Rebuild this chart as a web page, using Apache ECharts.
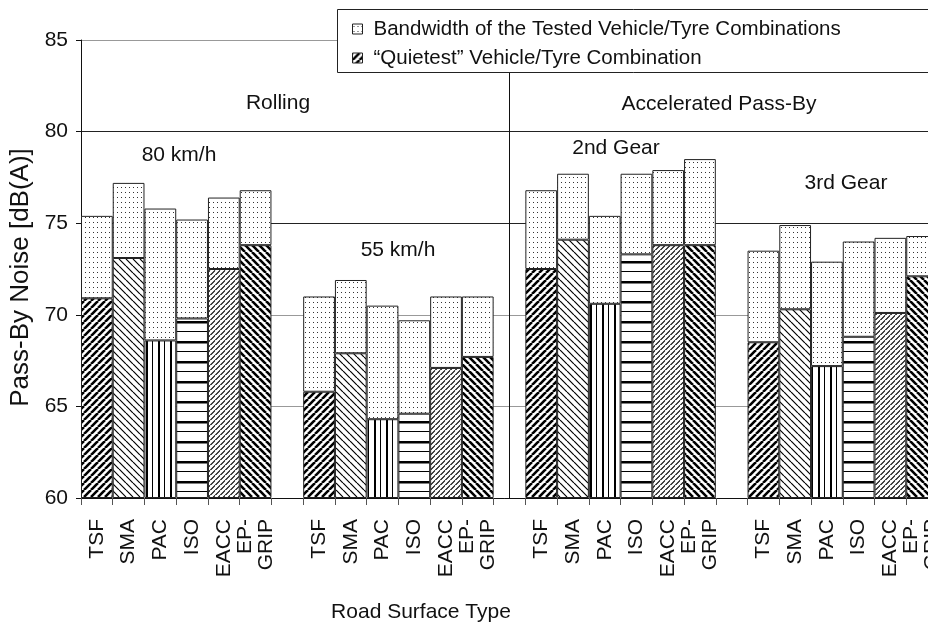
<!DOCTYPE html>
<html><head><meta charset="utf-8">
<script src="https://cdn.jsdelivr.net/npm/echarts@6/dist/echarts.min.js"></script>
<style>html,body{margin:0;padding:0;background:#fff}#c{width:928px;height:628px}</style>
</head><body><div id="c"></div>
<script>
// ---------- data ----------
const surfaces = ['TSF', 'SMA', 'PAC', 'ISO', 'EACC', 'EP-\nGRIP'];
const quietest80  = [70.9, 73.1, 68.6, 69.8, 72.5, 73.8];
const maximum80   = [75.4, 77.2, 75.8, 75.2, 76.4, 76.8];
const quietest55  = [65.8, 67.9, 64.3, 64.6, 67.1, 67.7];
const maximum55   = [71.0, 71.9, 70.5, 69.7, 71.0, 71.0];
const quietest2nd = [72.5, 74.1, 70.6, 73.3, 73.8, 73.8];
const maximum2nd  = [76.8, 77.7, 75.4, 77.7, 77.9, 78.5];
const quietest3rd = [68.5, 70.3, 67.2, 68.8, 70.1, 72.1];
const maximum3rd  = [73.5, 74.9, 72.9, 74.0, 74.2, 74.3];
const yMin = 60, yMax = 85, yStep = 5;
const legendNames = ['Bandwidth of the Tested Vehicle/Tyre Combinations', '\u201cQuietest\u201d Vehicle/Tyre Combination'];

// ---------- patterns ----------
function tile(w, h, draw) {
  const c = document.createElement('canvas');
  c.width = w; c.height = h;
  const ctx = c.getContext('2d');
  ctx.fillStyle = '#fff'; ctx.fillRect(0, 0, w, h);
  draw(ctx);
  return { image: c, repeat: 'repeat' };
}
function diag(s, lw, forward) {
  return tile(s, s, ctx => {
    ctx.strokeStyle = '#000'; ctx.lineWidth = lw; ctx.beginPath();
    for (let k = -1; k <= 2; k++) {
      if (forward) { ctx.moveTo(k * s, 0); ctx.lineTo(k * s - s, s); }
      else { ctx.moveTo(k * s, 0); ctx.lineTo(k * s + s, s); }
    }
    ctx.stroke();
  });
}
const dots = tile(4, 5, ctx => { ctx.fillStyle = '#333'; ctx.fillRect(1, 2, 1, 1); });
const vert = tile(12, 4, ctx => { ctx.fillStyle = '#000'; ctx.fillRect(2, 0, 2, 4); ctx.fillRect(8, 0, 1, 4); });
const horiz = tile(4, 20, ctx => { ctx.fillStyle = '#000'; ctx.fillRect(0, 1, 4, 2.5); ctx.fillRect(0, 11, 4, 1); });
const hatches = [diag(7, 2.6, true), diag(7, 1.2, false), vert, horiz, diag(5.5, 1.1, true), diag(7, 2.6, false)];

// ---------- build series data ----------
const groups = [[quietest80, maximum80], [quietest55, maximum55], [quietest2nd, maximum2nd], [quietest3rd, maximum3rd]];
const categories = [], quietData = [], bandData = [];
groups.forEach((g, gi) => {
  if (gi > 0) { categories.push(''); quietData.push('-'); bandData.push('-'); }
  surfaces.forEach((s, i) => {
    categories.push(s);
    quietData.push({ value: g[0][i], itemStyle: { color: hatches[i] } });
    bandData.push(+(g[1][i] - g[0][i]).toFixed(2));
  });
});
const dividerIndex = 2 * surfaces.length + 1;

const FONT = "'Liberation Sans', Arial, Helvetica, sans-serif";
const txt = (text, x, y) => ({ type: 'text', x: x, y: y, z: 5,
  style: { text: text, fontSize: 21, fontFamily: FONT, fill: '#111', align: 'center', verticalAlign: 'middle' } });

const chart = echarts.init(document.getElementById('c'), null, { renderer: 'canvas' });
chart.setOption({
  animation: false,
  backgroundColor: '#fff',
  grid: { left: 81, right: -10, top: 40, bottom: 130, containLabel: false, outerBoundsMode: 'none' },
  legend: {
    data: legendNames, orient: 'vertical', left: 347, top: 13, z: 120,
    itemWidth: 10, itemHeight: 10, itemGap: 7, icon: 'rect', selectedMode: false,
    itemStyle: { borderColor: '#222', borderWidth: 1 },
    textStyle: { fontSize: 20.5, lineHeight: 22, color: '#111', fontFamily: FONT, padding: [0, 0, 0, 6] }
  },
  xAxis: {
    type: 'category', data: categories,
    name: 'Road Surface Type', nameLocation: 'middle', nameGap: 104,
    nameTextStyle: { fontSize: 21, color: '#111', fontFamily: FONT, padding: [0, 177, 0, 0] },
    axisLine: { lineStyle: { color: '#111', width: 1 } },
    axisTick: { show: true, length: 7, interval: 0, lineStyle: { color: '#555' } },
    axisLabel: { interval: 0, rotate: 90, fontSize: 21, lineHeight: 21, color: '#111', fontFamily: FONT, margin: 21 },
    splitLine: { show: false }
  },
  yAxis: {
    type: 'value', min: yMin, max: yMax, interval: yStep, startValue: yMin,
    name: 'Pass-By Noise [dB(A)]', nameLocation: 'middle', nameGap: 47,
    nameTextStyle: { fontSize: 26, color: '#111', fontFamily: FONT, padding: [0, 17, 0, 0] },
    axisLine: { show: true, lineStyle: { color: '#111', width: 1 } },
    axisTick: { show: true, length: 5, lineStyle: { color: '#111' } },
    axisLabel: { fontSize: 21, color: '#111', fontFamily: FONT, margin: 13 },
    splitLine: { show: true, lineStyle: { width: 1, color: ['#999', '#999', '#999', '#222', '#222', '#999'] } }
  },
  series: [
    {
      name: legendNames[1], type: 'bar', stack: 'noise', data: quietData,
      barCategoryGap: '0%', z: 2,
      itemStyle: { color: hatches[0], borderColor: '#222', borderWidth: 1 }
    },
    {
      name: legendNames[0], type: 'bar', stack: 'noise', data: bandData,
      barCategoryGap: '0%', z: 2,
      itemStyle: { color: dots, borderColor: '#222', borderWidth: 1 },
      markLine: {
        silent: true, symbol: 'none', label: { show: false },
        lineStyle: { color: '#111', width: 1, type: 'solid' },
        data: [{ xAxis: dividerIndex }]
      }
    }
  ],
  graphic: [
    { type: 'rect', z: 100, shape: { x: 337.5, y: 9.5, width: 700, height: 63 },
      style: { fill: '#fff', stroke: '#222', lineWidth: 1 } },
    txt('Rolling', 278, 103),
    txt('Accelerated Pass-By', 719, 104),
    txt('80 km/h', 179, 155),
    txt('55 km/h', 398, 250),
    txt('2nd Gear', 616, 148),
    txt('3rd Gear', 846, 183)
  ]
});
</script>
</body></html>
